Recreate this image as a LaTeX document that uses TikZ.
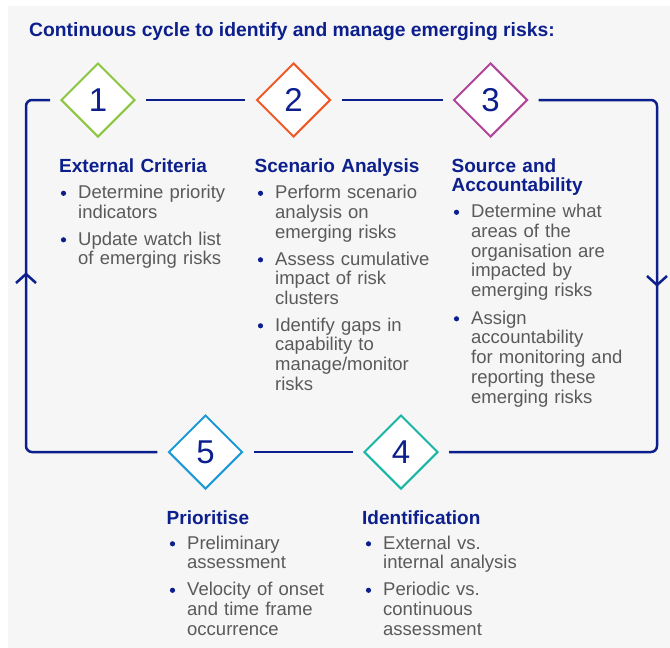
\documentclass[tikz,border=0pt]{standalone}
\usepackage{fontspec}
\setmainfont{Liberation Sans}
\usetikzlibrary{calc,positioning,shapes.geometric}

\definecolor{CycleBlue}{HTML}{0C1F8C}
\definecolor{TextGray}{HTML}{5A5A5A}
\definecolor{PanelGray}{HTML}{F6F6F6}
\definecolor{StageGreen}{HTML}{8CC63F}
\definecolor{StageOrange}{HTML}{F05A28}
\definecolor{StagePurple}{HTML}{B3469A}
\definecolor{StageTeal}{HTML}{19B5A5}
\definecolor{StageBlue}{HTML}{1E9BD7}

\begin{document}
\begin{tikzpicture}
  [x=1pt, y=-1pt,
   stage/.style={draw, diamond, fill=white, line width=2pt, inner sep=0pt,
                 minimum width=74pt, minimum height=74pt,
                 font=\fontsize{33}{33}\selectfont, text=CycleBlue},
   cycle line/.style={draw=CycleBlue, line width=2.5pt, shorten >=10pt, shorten <=10pt},
   flow mark/.style={draw=CycleBlue, line width=2.5pt, line join=round},
   title/.style={anchor=base west, inner sep=0pt, text=CycleBlue,
                 font=\bfseries\fontsize{19.3}{19.8}\selectfont},
   heading/.style={anchor=base west, inner sep=0pt, text width=200pt, align=left,
                   text=CycleBlue, font=\bfseries\fontsize{19}{19.8}\selectfont},
   item/.style={anchor=base west, inner sep=0pt, text width=200pt, align=left,
                text=TextGray, font=\fontsize{18.5}{19.8}\selectfont}]

  \useasboundingbox (0,0) rectangle (670,648);
  \fill [PanelGray] (8,6) rectangle (670,648);

  \node [title] (title) at (29,36) {Continuous cycle to identify and manage emerging risks:};

  % corners of the cycle
  \coordinate (tl) at ( 26,100);
  \coordinate (tr) at (657,100);
  \coordinate (br) at (657,452);
  \coordinate (bl) at ( 26,452);
  \coordinate (left mark)  at ( 26,274);
  \coordinate (right mark) at (657,285);

  \node [stage, draw=StageGreen]  (d1) at ( 98.0,100) {1};
  \node [stage, draw=StageOrange] (d2) at (293.5,100) {2};
  \node [stage, draw=StagePurple] (d3) at (490.5,100) {3};
  \node [stage, draw=StageTeal]   (d4) at (401.0,452) {4};
  \node [stage, draw=StageBlue]   (d5) at (205.5,452) {5};

  \draw [cycle line, rounded corners=6pt] (d5) -- (bl) -- (tl) -- (d1);
  \draw [cycle line] (d1) -- (d2);
  \draw [cycle line] (d2) -- (d3);
  \draw [cycle line, rounded corners=6pt] (d3) -- (tr) -- (br) -- (d4);
  \draw [cycle line] (d4) -- (d5);

  % direction marks
  \draw [flow mark] ($(left mark)+(-10,9)$) -- (left mark) -- ($(left mark)+(10,9)$);
  \draw [flow mark] ($(right mark)+(-10,-9)$) -- (right mark) -- ($(right mark)+(10,-9)$);

  % stage 1
  \node [heading] (h1) at ($(d1.west)+(-1,72)$) {External Criteria};
  \node [item] (i1a) at ( 78,198.5) {Determine priority\\indicators};
  \node [item] (i1b) at ( 78,245.0) {Update watch list\\of emerging risks};

  % stage 2
  \node [heading] (h2) at ($(d2.west)+(-1,72)$) {Scenario Analysis};
  \node [item] (i2a) at (275,198.5) {Perform scenario\\analysis on\\emerging risks};
  \node [item] (i2b) at (275,265.0) {Assess cumulative\\impact of risk\\clusters};
  \node [item] (i2c) at (275,331.0) {Identify gaps in\\capability to\\manage/monitor\\risks};

  % stage 3
  \node [heading] (h3) at ($(d3.west)+(-1,72)$) {Source and\\Accountability};
  \node [item] (i3a) at (471,217.5) {Determine what\\areas of the\\organisation are\\impacted by\\emerging risks};
  \node [item] (i3b) at (471,324.0) {Assign\\accountability\\for monitoring and\\reporting these\\emerging risks};

  % stage 4
  \node [heading] (h4) at ($(d4.west)+(-1,72)$) {Identification};
  \node [item] (i4a) at (383,549.0) {External vs.\\internal analysis};
  \node [item] (i4b) at (383,595.5) {Periodic vs.\\continuous\\assessment};

  % stage 5
  \node [heading] (h5) at ($(d5.west)+(-1,72)$) {Prioritise};
  \node [item] (i5a) at (187,549.0) {Preliminary\\assessment};
  \node [item] (i5b) at (187,595.5) {Velocity of onset\\and time frame\\occurrence};

  \foreach \Item in {i1a,i1b,i2a,i2b,i2c,i3a,i3b,i4a,i4b,i5a,i5b}
    \fill [CycleBlue] ($(\Item.base west)+(-14.5,-5.2)$) circle [radius=2.6pt];
\end{tikzpicture}
\end{document}
